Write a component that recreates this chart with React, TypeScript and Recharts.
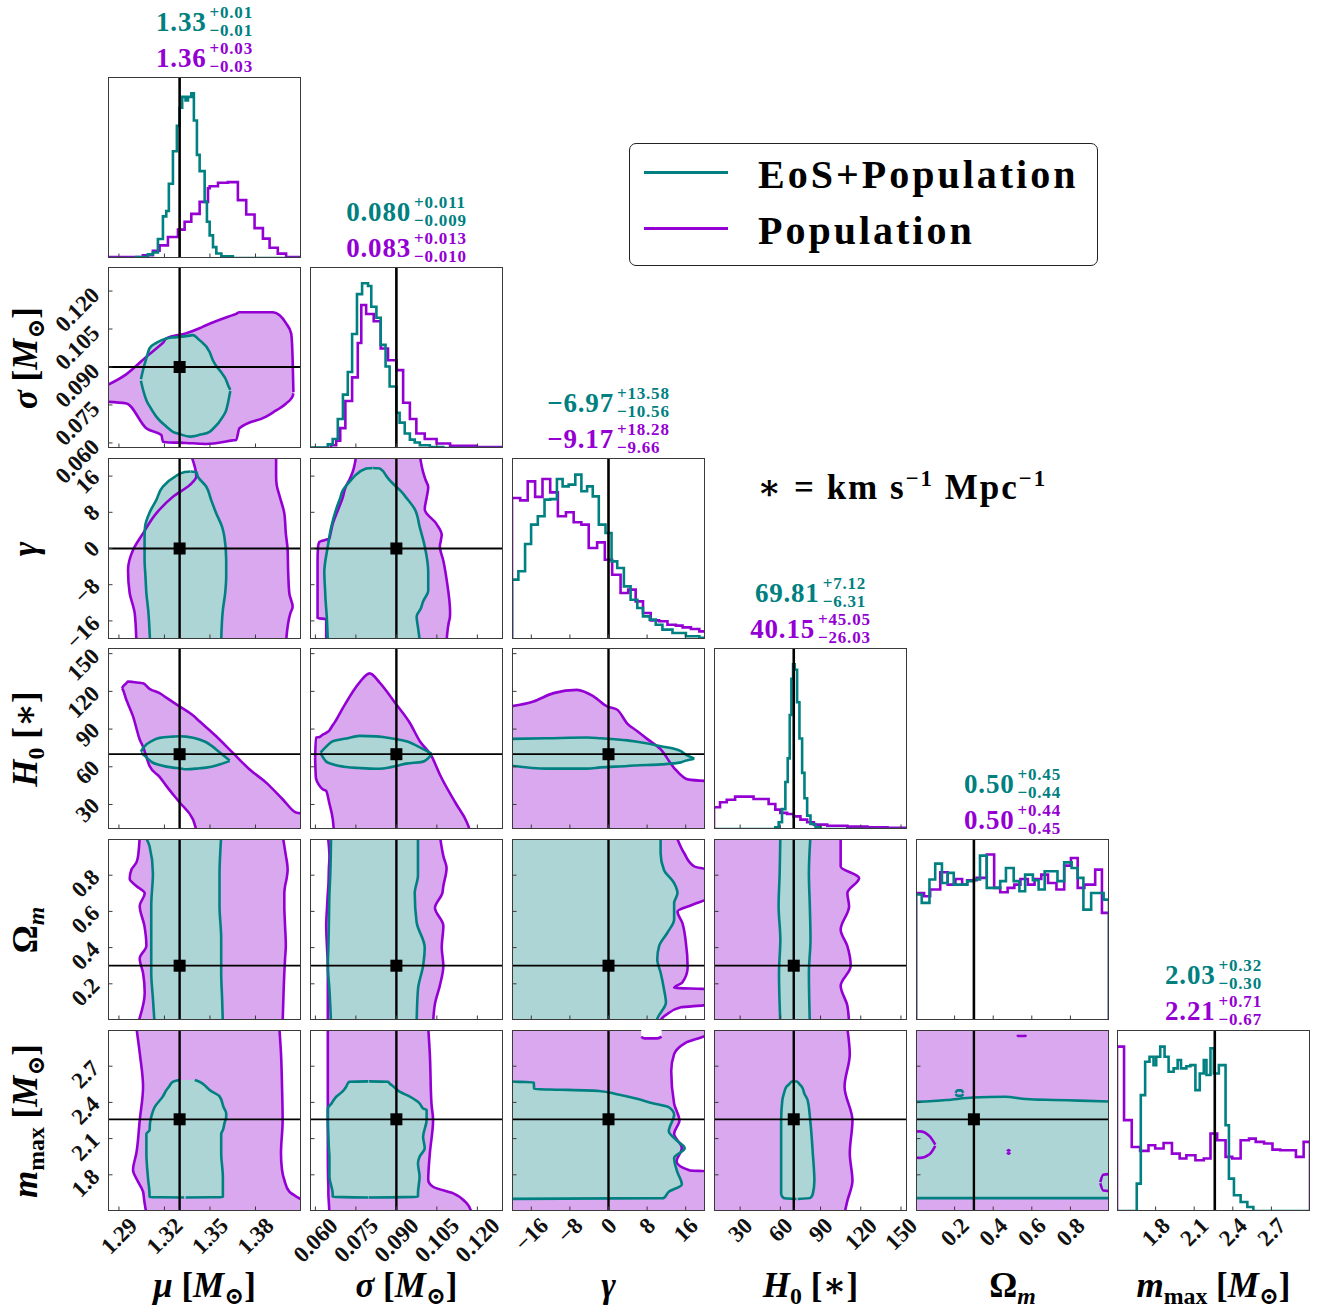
import React from 'react'
import { ComposedChart, LineChart, Line, Area, XAxis, YAxis, ReferenceLine, ReferenceDot } from 'recharts'

const TEAL = '#008080'
const PURPLE = '#9400d3'
const TEAL_FILL = '#aed5d5'
const PURPLE_FILL = '#d9a8ee'
const FRAME = '#3a3a3a'
const SERIF = "'Liberation Serif', 'DejaVu Serif', serif"

// ---- parameter axes ----
const muTicks = [1.29, 1.32, 1.35, 1.38]
const sigTicks = [0.06, 0.075, 0.09, 0.105, 0.12]
const gamTicks = [-16, -8, 0, 8, 16]
const h0Ticks = [30, 60, 90, 120, 150]
const omTicks = [0.2, 0.4, 0.6, 0.8]
const mmaxTicks = [1.8, 2.1, 2.4, 2.7]
const truths = [1.33, 0.09, 0, 70, 0.3, 2.26]

// ---- 1D marginals [x, height %] ----
const muTeal = [[1.2828, 0], [1.3015, 0.5], [1.3091, 2], [1.3124, 3], [1.3157, 10.5], [1.319, 23], [1.3212, 26], [1.3229, 41], [1.3256, 59], [1.3282, 73], [1.33, 83], [1.3317, 89], [1.3339, 87], [1.3355, 89], [1.3377, 91], [1.3394, 76], [1.3414, 57], [1.3432, 48], [1.3465, 31], [1.348, 20], [1.3498, 12.5], [1.352, 6], [1.3542, 2.5], [1.3575, 1], [1.3651, 0], [1.41, 0]]
const muPurple = [[1.2828, 0.5], [1.3058, 1.5], [1.3124, 4], [1.3168, 7], [1.3223, 11.6], [1.3289, 15.7], [1.3333, 20], [1.3377, 24.4], [1.3432, 31], [1.3487, 38.5], [1.3498, 39.6], [1.3553, 41.6], [1.3618, 41.9], [1.3684, 32], [1.3739, 24], [1.3794, 16.5], [1.3849, 10.7], [1.3893, 5.7], [1.3947, 2.4], [1.4002, 0.5], [1.41, 0.5]]
const sigTeal = [[0.058, 0.3], [0.0646, 2], [0.0664, 5], [0.0683, 16], [0.0702, 29.5], [0.072, 42], [0.0736, 63], [0.0754, 85], [0.0773, 91], [0.0795, 89.5], [0.0807, 78], [0.0826, 72], [0.0842, 57], [0.086, 45], [0.0875, 34], [0.09, 19.5], [0.0912, 14], [0.0931, 8], [0.095, 4.6], [0.0968, 3], [0.0987, 1.5], [0.1024, 0.5], [0.1074, 0], [0.1295, 0]]
const sigPurple = [[0.058, 0], [0.0658, 1.5], [0.0677, 4], [0.0692, 11], [0.0711, 26], [0.0736, 39], [0.0757, 58], [0.077, 79], [0.0788, 74], [0.0816, 70], [0.0842, 55], [0.0869, 48.5], [0.09, 43], [0.0925, 25], [0.095, 16], [0.0974, 8], [0.1005, 5], [0.1049, 2.5], [0.1099, 1.2], [0.1198, 0.5], [0.1295, 0.5]]
const gamTeal = [[-20, 0], [-20, 32.8], [-18.68, 37.4], [-17.29, 52.5], [-16.04, 63.2], [-14.65, 67.8], [-13.26, 77], [-12.08, 77.3], [-10.69, 88.4], [-9.51, 84.3], [-8.26, 85.3], [-6.88, 90.8], [-5.62, 81.6], [-4.44, 84.3], [-3.26, 78.8], [-2.01, 63.2], [-0.62, 58.6], [0.63, 42.9], [1.81, 39.2], [3.19, 29.1], [4.58, 21.7], [5.97, 17.1], [7.15, 12.5], [8.54, 10.7], [9.79, 7.9], [11.18, 5.2], [13.26, 3.3], [16.04, 1.5], [18.82, 0.6], [20, 0.6]]
const gamPurple = [[-20, 0], [-20, 77.9], [-18.3, 76.6], [-16.74, 87.1], [-15.21, 78.5], [-13.68, 88.4], [-12.08, 81], [-10.49, 67.8], [-8.82, 70], [-7.22, 64.5], [-5.62, 63.2], [-4.1, 50.3], [-2.36, 53.4], [-0.76, 43.8], [0.76, 35.5], [2.5, 25.4], [4.1, 27.3], [5.63, 20.8], [7.15, 14.4], [8.75, 10.3], [10.49, 9.8], [12.22, 7.9], [13.96, 7.4], [15.35, 6.4], [17.08, 5.5], [18.82, 4.2], [20, 4.2]]
const h0Teal = [[10.5, 0], [56.25, 0.9], [58.75, 3.7], [61.25, 11], [63.75, 26], [65.5, 39], [67, 63], [68.25, 83], [69.5, 91], [70.75, 88], [72.5, 70], [74.25, 50], [76.25, 31], [78, 17], [80, 7.4], [82.5, 2.8], [86.25, 0.9], [90, 0], [154.5, 0]]
const h0Purple = [[10.5, 0], [10.5, 12], [15, 14.8], [20, 16.2], [26.25, 17.9], [40, 16.6], [51.25, 13.8], [56.25, 10.7], [60, 8.9], [65, 8.3], [70, 7], [75, 5.2], [80, 3.7], [85, 2.4], [95, 1.8], [110, 1.3], [125, 0.9], [140, 0.6], [154.5, 0.6]]
const omTeal = [[0, 0], [0, 69.3], [0.0297, 64.7], [0.0698, 77.6], [0.0995, 86.4], [0.1344, 75.7], [0.1641, 81.3], [0.1955, 74.8], [0.2653, 76.7], [0.3002, 77.6], [0.3316, 90.8], [0.3665, 73], [0.4363, 76.7], [0.466, 84], [0.5061, 76.7], [0.5358, 71.1], [0.5654, 80.3], [0.6056, 77.2], [0.6353, 72.1], [0.6667, 82.2], [0.733, 76.7], [0.7679, 87.1], [0.8063, 84], [0.8377, 78.5], [0.8674, 61], [0.9075, 70.2], [0.9721, 66.5], [1.0, 0]]
const omPurple = [[0, 0], [0, 70.2], [0.0419, 68.4], [0.0733, 72.1], [0.1257, 81.6], [0.1641, 74.8], [0.2042, 77.9], [0.2391, 74.8], [0.2653, 77.2], [0.3142, 78.5], [0.3665, 91.4], [0.4049, 73], [0.4363, 70.6], [0.4747, 73], [0.5096, 74.8], [0.541, 77.9], [0.5794, 74.8], [0.6143, 77.9], [0.6492, 80.3], [0.6841, 75.7], [0.7277, 72.1], [0.7679, 85.3], [0.8028, 89.5], [0.8377, 73], [0.8726, 74.8], [0.9284, 83.1], [0.9634, 59.2], [1.0, 0]]
const mmaxTeal = [[1.5, 0], [1.6536, 15.1], [1.6849, 64], [1.7188, 82.5], [1.7526, 85.2], [1.7839, 80.6], [1.8047, 85.2], [1.8359, 90.8], [1.8698, 85.2], [1.901, 76.9], [1.9401, 78.8], [1.9714, 83.4], [1.9974, 78.8], [2.0391, 80], [2.0703, 80.6], [2.1094, 66.8], [2.1432, 76], [2.1745, 83.4], [2.1953, 75.1], [2.2266, 89.9], [2.2526, 76], [2.2917, 80.6], [2.3438, 47.4], [2.3698, 17.9], [2.4089, 8.7], [2.4609, 5], [2.513, 2.2], [2.5599, 0], [3.0, 0]]
const mmaxPurple = [[1.5, 0], [1.5, 90.8], [1.5547, 50.2], [1.6146, 35.4], [1.6797, 33.2], [1.7448, 36.3], [1.7969, 34.5], [1.862, 37.6], [1.9271, 31.7], [1.987, 29], [2.0391, 30.8], [2.1094, 28], [2.1745, 29], [2.2266, 42.8], [2.2786, 39.1], [2.3438, 29.9], [2.3958, 29], [2.4609, 39.1], [2.526, 40], [2.5781, 38.2], [2.6432, 37.3], [2.7083, 33.9], [2.7682, 33.6], [2.8906, 29.9], [2.9505, 38.2], [3.0, 0]]

// ---- 68% regions [coord, lo, hi] ----
const sigMuP = [[1.28, 0.0763, 0.0822], [1.295, 0.0756, 0.0872], [1.308, 0.0658, 0.094], [1.318, 0.0631, 0.099], [1.319, 0.0605, 0.0995], [1.3212, 0.0603, 0.1013], [1.3344, 0.06, 0.1033], [1.3431, 0.0597, 0.1053], [1.3475, 0.0596, 0.1065], [1.365, 0.061, 0.1105], [1.3673, 0.0612, 0.111], [1.3694, 0.0658, 0.1116], [1.387, 0.0704, 0.1116], [1.3914, 0.072, 0.1116], [1.4002, 0.0756, 0.1072], [1.4035, 0.0775, 0.1033], [1.4045, 0.0785, 0.0927], [1.405, 0.0796, 0.08]]
const sigMuT = [[1.3045, 0.0846, 0.0852], [1.3059, 0.081, 0.0888], [1.3081, 0.0769, 0.0935], [1.3102, 0.0745, 0.0974], [1.3146, 0.0704, 0.0995], [1.3212, 0.0665, 0.1013], [1.3256, 0.0644, 0.1017], [1.33, 0.0635, 0.1019], [1.3366, 0.0625, 0.1024], [1.3387, 0.0626, 0.1026], [1.3431, 0.0632, 0.1006], [1.3497, 0.0644, 0.096], [1.3519, 0.0655, 0.0927], [1.3585, 0.0704, 0.087], [1.3607, 0.073, 0.0848], [1.3618, 0.0756, 0.083], [1.3634, 0.0805, 0.081]]
const gamMuP = [[-20.5, 1.3015, 1.4002], [-14.3, 1.3004, 1.403], [-12.9, 1.2995, 1.4045], [-9.9, 1.2971, 1.4023], [-4.75, 1.296, 1.4015], [-0.33, 1.2993, 1.4012], [3.35, 1.3059, 1.4], [7.77, 1.3146, 1.399], [11.45, 1.3256, 1.396], [14.0, 1.3366, 1.394], [15.9, 1.341, 1.3936], [20.5, 1.3377, 1.3936]]
const gamMuT = [[-20.5, 1.3105, 1.3574], [-13.6, 1.3093, 1.3585], [-9.9, 1.3081, 1.36], [-6.2, 1.3075, 1.3607], [-2.5, 1.3069, 1.3607], [2.6, 1.3069, 1.3595], [4.8, 1.3072, 1.358], [7.8, 1.31, 1.3541], [10.7, 1.3146, 1.3508], [13.7, 1.319, 1.3475], [15.9, 1.327, 1.342], [16.9, 1.3333, 1.341], [17.0, 1.337, 1.3372]]
const h0MuP = [[1.292, 122.5, 122.6], [1.2927, 121.2, 123.9], [1.2949, 113.3, 126.5], [1.296, 110, 127.8], [1.2993, 100.1, 127.5], [1.3037, 81.7, 126.8], [1.3059, 76, 126.5], [1.3102, 60.6, 122], [1.3168, 52, 118.6], [1.3212, 44.8, 115], [1.33, 31.6, 108], [1.3387, 18.4, 101], [1.3431, 5, 96.2], [1.3541, 5, 84.3], [1.365, 5, 71.2], [1.376, 5, 58], [1.387, 5, 47.4], [1.3979, 5, 34.2], [1.4067, 5, 23.7], [1.415, 5, 22.4]]
const h0MuT = [[1.3045, 71, 72], [1.3059, 69.8, 75], [1.3124, 63.2, 81], [1.3168, 61.5, 83], [1.3256, 59.3, 84], [1.33, 58.8, 84.3], [1.3344, 58, 84], [1.3431, 58.8, 81.7], [1.3475, 59.3, 79.5], [1.3541, 61, 73.8], [1.3563, 61.9, 71.5], [1.363, 64.5, 65]]
const omMuP = [[-0.02, 1.3025, 1.3979], [0.15, 1.307, 1.3985], [0.26, 1.3059, 1.399], [0.34, 1.3037, 1.3995], [0.41, 1.3081, 1.4], [0.52, 1.3068, 1.3995], [0.63, 1.3037, 1.399], [0.7, 1.307, 1.399], [0.74, 1.3015, 1.3995], [0.78, 1.2971, 1.4005], [0.83, 1.2982, 1.4012], [0.87, 1.3015, 1.4008], [0.9, 1.3025, 1.4002], [1.02, 1.3037, 1.3979]]
const omMuT = [[-0.02, 1.3135, 1.3585], [0.12, 1.3124, 1.358], [0.26, 1.3113, 1.3574], [0.45, 1.3113, 1.3574], [0.63, 1.3113, 1.3563], [0.81, 1.3124, 1.3563], [0.96, 1.3102, 1.357], [1.02, 1.307, 1.3574]]
const mmaxMuP = [[1.48, 1.3081, 1.415], [1.56, 1.307, 1.415], [1.605, 1.3065, 1.4089], [1.66, 1.3059, 1.4023], [1.757, 1.302, 1.399], [1.84, 1.2993, 1.3975], [1.98, 1.3015, 1.3968], [2.25, 1.3037, 1.3979], [2.53, 1.3059, 1.3975], [2.81, 1.3037, 1.3968], [3.02, 1.3015, 1.3957]]
const mmaxMuT = [[1.612, 1.333, 1.334], [1.615, 1.3102, 1.3585], [1.63, 1.3102, 1.3585], [1.78, 1.3091, 1.3585], [1.98, 1.3081, 1.3574], [2.14, 1.3081, 1.3574], [2.17, 1.3102, 1.3585], [2.23, 1.3105, 1.3596], [2.28, 1.3113, 1.3607], [2.31, 1.312, 1.3607], [2.36, 1.3135, 1.359], [2.45, 1.319, 1.3563], [2.5, 1.3212, 1.35], [2.53, 1.323, 1.3475], [2.571, 1.3256, 1.3431], [2.585, 1.33, 1.34]]
const gamSigP = [[-20.5, 0.064, 0.1086], [-15.6, 0.064, 0.1097], [-15.4, 0.0608, 0.1098], [-14.1, 0.0608, 0.1099], [-6.8, 0.0608, 0.1086], [-2.7, 0.0608, 0.1074], [0.5, 0.061, 0.1061], [1.5, 0.0615, 0.1064], [2.2, 0.0652, 0.1066], [3.0, 0.0655, 0.1068], [5.4, 0.0664, 0.1049], [8.7, 0.0685, 0.1005], [11.2, 0.0701, 0.1012], [13.6, 0.0712, 0.1018], [15.2, 0.0726, 0.1008], [16.9, 0.0738, 0.0999], [20.5, 0.0751, 0.0987]]
const gamSigT = [[-20.5, 0.0646, 0.0987], [-17.4, 0.0644, 0.098], [-15.0, 0.0642, 0.0975], [-13.3, 0.064, 0.099], [-11.7, 0.0638, 0.0999], [-9.3, 0.0636, 0.1018], [-5.2, 0.0633, 0.1018], [0.5, 0.0646, 0.1005], [4.6, 0.0658, 0.0987], [8.7, 0.0677, 0.0968], [11.2, 0.0692, 0.0937], [12.8, 0.0701, 0.0915], [13.6, 0.071, 0.09], [15.6, 0.0739, 0.0868], [16.0, 0.0745, 0.0863], [17.7, 0.0788, 0.0838], [17.8, 0.0812, 0.0814]]
const h0SigP = [[0.0599, 67, 67.1], [0.0602, 51, 83.2], [0.0615, 45, 83.7], [0.0627, 42.2, 85.5], [0.064, 40.8, 87], [0.0652, 30.6, 89], [0.0664, 18.9, 93], [0.0672, 5, 95.5], [0.0701, 5, 106.5], [0.0763, 5, 127], [0.0801, 5, 134.3], [0.0838, 5, 127], [0.09, 5, 109.5], [0.095, 5, 94.8], [0.0987, 5, 80.3], [0.103, 5, 68.6], [0.1061, 5, 53.9], [0.1121, 5, 30.6], [0.1161, 5, 15.96], [0.1175, 5, 8]]
const h0SigT = [[0.0619, 70.8, 71.2], [0.064, 64.1, 76], [0.0664, 62, 80.3], [0.0714, 59.8, 82.5], [0.0763, 59, 84.6], [0.0826, 58.4, 84.2], [0.085, 58.6, 83.7], [0.0912, 61.3, 81.5], [0.0937, 62.5, 80.3], [0.0999, 64.1, 74], [0.103, 69.5, 70.5]]
const omSigP = [[-0.02, 0.0646, 0.1036], [0.09, 0.0646, 0.1043], [0.19, 0.0646, 0.1061], [0.3, 0.0646, 0.1074], [0.4, 0.0643, 0.1068], [0.52, 0.064, 0.1074], [0.62, 0.0643, 0.1043], [0.7, 0.0646, 0.107], [0.74, 0.0648, 0.1074], [0.84, 0.065, 0.1086], [0.9, 0.0652, 0.1075], [1.02, 0.0646, 0.1061]]
const omSigT = [[-0.02, 0.0658, 0.0975], [0.17, 0.0652, 0.098], [0.3, 0.0646, 0.0999], [0.4, 0.0648, 0.1005], [0.54, 0.065, 0.0975], [0.7, 0.0652, 0.0968], [0.8, 0.0655, 0.098], [1.02, 0.0658, 0.098]]
const mmaxSigP = [[1.48, 0.0652, 0.118], [1.563, 0.065, 0.1161], [1.646, 0.0648, 0.1111], [1.701, 0.0648, 0.1036], [1.757, 0.0647, 0.1018], [1.978, 0.0646, 0.1024], [2.254, 0.0646, 0.1036], [2.39, 0.0646, 0.103], [2.8, 0.0646, 0.1024], [3.02, 0.0646, 0.1018]]
const mmaxSigT = [[1.612, 0.0795, 0.0797], [1.618, 0.0664, 0.098], [1.646, 0.0664, 0.098], [1.784, 0.0652, 0.0986], [1.895, 0.0652, 0.098], [1.95, 0.0652, 0.0986], [2.02, 0.065, 0.1005], [2.116, 0.0648, 0.0999], [2.254, 0.0646, 0.1012], [2.337, 0.0646, 0.1012], [2.35, 0.0646, 0.0999], [2.392, 0.066, 0.0986], [2.447, 0.0677, 0.095], [2.489, 0.07, 0.0912], [2.53, 0.0714, 0.089], [2.557, 0.072, 0.0875], [2.571, 0.0726, 0.0869], [2.574, 0.0796, 0.0799]]
const h0GamP = [[-20.5, 5, 108], [-15.56, 5, 112], [-11.39, 5, 118.6], [-6.53, 5, 121.2], [-3.06, 5, 115.9], [-0.28, 5, 108], [1.81, 5, 105.4], [3.89, 5, 94.4], [5.97, 5, 88.3], [8.06, 5, 82], [10.83, 5, 73.8], [13.61, 5, 59], [16.39, 5, 50], [20.5, 5, 48.7]]
const h0GamT = [[-20.5, 61.1, 82.2], [-12.78, 58.5, 82.7], [-4.44, 58.5, 83.3], [-1.67, 59.5, 82.7], [3.89, 60.6, 81], [5.28, 61, 80.3], [10.83, 61.9, 76.4], [15.0, 63.5, 72.5], [15.69, 64.5, 70.5], [17.78, 66.4, 66.6]]
const omGamP = [[-0.02, -20.5, 10.3], [0.03, -20.5, 12], [0.07, -20.5, 15], [0.085, -20.5, 20.5], [0.17, -20.5, 20.5], [0.178, -20.5, 13.6], [0.207, -20.5, 15.3], [0.29, -20.5, 16.4], [0.436, -20.5, 16], [0.537, -20.5, 15.3], [0.6, -20.5, 14.3], [0.637, -20.5, 17.4], [0.674, -20.5, 20.5], [0.829, -20.5, 20.5], [0.848, -20.5, 17.8], [0.921, -20.5, 15.7], [1.02, -20.5, 14]]
const omGamT = [[-0.02, -20.5, 10], [0.005, -20.5, 10.1], [0.097, -20.5, 11.9], [0.17, -20.5, 11.5], [0.262, -20.5, 10.8], [0.335, -20.5, 10.1], [0.409, -20.5, 10.5], [0.482, -20.5, 12.2], [0.555, -20.5, 13.6], [0.646, -20.5, 13.6], [0.701, -20.5, 14.3], [0.756, -20.5, 13.6], [0.829, -20.5, 11.5], [0.921, -20.5, 10.8], [1.02, -20.5, 10.8]]
const mmaxGamP = [[1.48, -20.5, 20.5], [1.83, -20.5, 20.5], [1.835, -20.5, 16.9], [1.91, -20.5, 14.1], [2.02, -20.5, 15.2], [2.14, -20.5, 13.6], [2.25, -20.5, 14.7], [2.39, -20.5, 13.6], [2.66, -20.5, 13], [2.8, -20.5, 13.6], [2.89, -20.5, 15.8], [2.97, -20.5, 20.5], [3.02, -20.5, 20.5]]
const mmaxGamT = [[1.6, -20.5, -20.5], [1.607, -20.5, 11.4], [1.66, -20.5, 12.5], [1.72, -20.5, 15.2], [1.83, -20.5, 14.2], [1.94, -20.5, 13.6], [2.02, -20.5, 15.8], [2.09, -20.5, 14], [2.16, -20.5, 12.5], [2.3, -20.5, 13.6], [2.36, -20.5, 12.5], [2.4, -20.5, 8.5], [2.43, -20.5, 5.9], [2.47, -20.5, 1.5], [2.495, -20.5, -2], [2.505, -20.5, -10], [2.51, -20.5, -15.4], [2.567, -20.5, -15.5], [2.57, -20.5, -18.5], [2.575, -20.5, -20.5]]
const mmaxGamIsland = [[10.3, 2.96, 3.1], [10.8, 2.95, 3.1], [12.8, 2.95, 3.1], [13.4, 2.96, 3.1]]
const omH0P = [[-0.02, 5, 111.3], [0.079, 5, 110], [0.189, 5, 105], [0.298, 5, 112.5], [0.408, 5, 110], [0.5, 5, 105], [0.628, 5, 111.3], [0.701, 5, 110], [0.784, 5, 118.8], [0.848, 5, 105], [1.02, 5, 105]]
const omH0T = [[-0.02, 60, 82], [0.26, 59, 81.3], [0.445, 60, 82.5], [0.628, 58.7, 82], [0.811, 59.5, 81.3], [1.02, 60, 82.5]]
const mmaxH0P = [[1.48, 5, 107.9], [1.58, 5, 109.9], [1.75, 5, 113.8], [1.98, 5, 111.8], [2.25, 5, 113.8], [2.53, 5, 107.9], [2.8, 5, 111.8], [3.02, 5, 109.9]]
const mmaxH0T = [[1.6, 72, 73], [1.607, 62.6, 82.3], [1.64, 60.6, 84.2], [1.75, 60.6, 85.4], [1.98, 60.6, 84.2], [2.25, 60.6, 82.3], [2.42, 61.5, 80.3], [2.47, 62.6, 78], [2.53, 64.5, 76], [2.55, 66.5, 74.4], [2.572, 68.5, 72.4], [2.575, 70, 71]]
const mmaxOmP = [[-0.05, 1.4, 3.1], [1.05, 1.4, 3.1]]
const mmaxOmT = [[-0.05, 1.607, 2.4], [0.158, 1.607, 2.42], [0.295, 1.607, 2.44], [0.46, 1.607, 2.447], [0.57, 1.607, 2.428], [0.708, 1.607, 2.42], [0.845, 1.607, 2.415], [1.05, 1.607, 2.405]]
const mmaxOmIslandL = [[-0.05, 1.95, 2.15], [0.02, 1.94, 2.16], [0.07, 1.97, 2.12], [0.1, 2.04, 2.05]]
const mmaxOmIslandR = [[0.955, 1.73, 1.74], [0.97, 1.67, 1.8], [1.05, 1.66, 1.81]]
const mmaxOmIslandDot = [[0.472, 1.985, 1.995], [0.48, 1.975, 2.005], [0.488, 1.985, 1.995]]
const mmaxOmIslandTop = [[0.525, 2.96, 3.1], [0.53, 2.95, 3.1], [0.565, 2.95, 3.1], [0.57, 2.96, 3.1]]
const mmaxOmTealLoop = [[0.205, 2.47, 2.48], [0.215, 2.455, 2.5], [0.235, 2.455, 2.5], [0.245, 2.47, 2.48]]

// ---- quoted medians ----
const tealMed = ['1.33', '0.080', '−6.97', '69.81', '0.50', '2.03']
const tealPlus = ['0.01', '0.011', '13.58', '7.12', '0.45', '0.32']
const tealMinus = ['0.01', '0.009', '10.56', '6.31', '0.44', '0.30']
const purpleMed = ['1.36', '0.083', '−9.17', '40.15', '0.50', '2.21']
const purplePlus = ['0.03', '0.013', '18.28', '45.05', '0.44', '0.71']
const purpleMinus = ['0.03', '0.010', '9.66', '26.03', '0.45', '0.67']

const neg = (s: string) => s.replace('-', '−')
const PARAMS = [
  { domain: [1.2828, 1.41], ticks: muTicks, fmt: (v: number) => v.toFixed(2) },
  { domain: [0.058, 0.1295], ticks: sigTicks, fmt: (v: number) => v.toFixed(3) },
  { domain: [-20, 20], ticks: gamTicks, fmt: (v: number) => neg(String(v)) },
  { domain: [10.5, 154.5], ticks: h0Ticks, fmt: (v: number) => String(v) },
  { domain: [0, 1], ticks: omTicks, fmt: (v: number) => v.toFixed(1) },
  { domain: [1.5, 3.0], ticks: mmaxTicks, fmt: (v: number) => v.toFixed(1) },
].map((p, i) => ({ ...p, truth: truths[i] }))

const HISTS = [
  [muTeal, muPurple], [sigTeal, sigPurple], [gamTeal, gamPurple],
  [h0Teal, h0Purple], [omTeal, omPurple], [mmaxTeal, mmaxPurple],
]

type Pair = { row: number; col: number; layout: 'horizontal' | 'vertical'; p: number[][]; t: number[][]; isl?: number[][][]; tisl?: number[][][] }
const PAIRS: Pair[] = [
  { row: 1, col: 0, layout: 'horizontal', p: sigMuP, t: sigMuT },
  { row: 2, col: 0, layout: 'vertical', p: gamMuP, t: gamMuT },
  { row: 3, col: 0, layout: 'horizontal', p: h0MuP, t: h0MuT },
  { row: 4, col: 0, layout: 'vertical', p: omMuP, t: omMuT },
  { row: 5, col: 0, layout: 'vertical', p: mmaxMuP, t: mmaxMuT },
  { row: 2, col: 1, layout: 'vertical', p: gamSigP, t: gamSigT },
  { row: 3, col: 1, layout: 'horizontal', p: h0SigP, t: h0SigT },
  { row: 4, col: 1, layout: 'vertical', p: omSigP, t: omSigT },
  { row: 5, col: 1, layout: 'vertical', p: mmaxSigP, t: mmaxSigT },
  { row: 3, col: 2, layout: 'horizontal', p: h0GamP, t: h0GamT },
  { row: 4, col: 2, layout: 'vertical', p: omGamP, t: omGamT },
  { row: 5, col: 2, layout: 'vertical', p: mmaxGamP, t: mmaxGamT },
  { row: 4, col: 3, layout: 'vertical', p: omH0P, t: omH0T },
  { row: 5, col: 3, layout: 'vertical', p: mmaxH0P, t: mmaxH0T },
  { row: 5, col: 4, layout: 'horizontal', p: mmaxOmP, t: mmaxOmT, isl: [mmaxOmIslandL, mmaxOmIslandR, mmaxOmIslandDot, mmaxOmIslandTop], tisl: [mmaxOmTealLoop] },
]
// white pocket near the top of the (gamma, m_max) panel, drawn in its own horizontal chart
const POCKETS = [{ row: 5, col: 2, d: mmaxGamIsland }]

// layout
const LEFT = [108, 310, 512, 714, 916, 1117]
const TOP = [77, 267, 458, 648, 839, 1030]
const PW = 193
const PH = 181
const AXL = 70 // room for y tick labels
const AXB = 70 // room for x tick labels
const M0 = { top: 0, right: 0, bottom: 0, left: 0 }
const TFS = 23
const LW = 2.6

const rows = (a: number[][]) => a.map(([c, lo, hi]) => ({ c, r: [lo, hi] }))
const steps = (a: number[][]) => a.map(([x, h]) => ({ x, h }))
const textW = (s: string) => [...s].reduce((a, ch) => a + (ch === '.' ? 0.25 : ch === '−' ? 0.57 : 0.5), 0) * TFS

const tickText = { fontFamily: SERIF, fontWeight: 700, fontSize: TFS, fill: '#111' }

// inward tick mark + optional rotated label
const xTick = (fmt: (v: number) => string, label: boolean) => (props: any) => {
  const cx = props.payload.coordinate
  const s = fmt(props.payload.value)
  const w = textW(s)
  const d = (w + 0.68 * TFS) / (2 * Math.SQRT2)
  return (
    <g>
      <line x1={cx} x2={cx} y1={PH} y2={PH - 4.5} stroke={FRAME} strokeWidth={1} />
      {label && (
        <text transform={`translate(${cx},${PH + 5 + d}) rotate(-45)`} textAnchor="middle" dy="0.34em" {...tickText}>{s}</text>
      )}
    </g>
  )
}
const yTick = (fmt: (v: number) => string, label: boolean) => (props: any) => {
  const cy = props.payload.coordinate
  const s = fmt(props.payload.value)
  const w = textW(s)
  const d = (w + 0.68 * TFS) / (2 * Math.SQRT2)
  return (
    <g>
      <line x1={AXL} x2={AXL + 4.5} y1={cy} y2={cy} stroke={FRAME} strokeWidth={1} />
      {label && (
        <text transform={`translate(${AXL - 7 - d},${cy + 0.45 * w - 5}) rotate(-45)`} textAnchor="middle" dy="0.34em" {...tickText}>{s}</text>
      )}
    </g>
  )
}

const square = (props: any) => <rect x={props.cx - 6} y={props.cy - 6} width={12} height={12} fill="#000" />
const Frame = () => (
  <div style={{ position: 'absolute', left: AXL, top: 0, width: PW, height: PH, border: `1.3px solid ${FRAME}`, boxSizing: 'border-box', pointerEvents: 'none' }} />
)
const boxStyle = (col: number, row: number) => ({ position: 'absolute' as const, left: LEFT[col] - AXL, top: TOP[row], width: PW + AXL, height: PH + AXB })
const noAnim = { dot: false, activeDot: false, isAnimationActive: false } as const

function Hist({ i }: { i: number }) {
  const p = PARAMS[i]
  const [teal, purple] = HISTS[i]
  return (
    <div style={boxStyle(i, i)}>
      <LineChart width={PW + AXL} height={PH + AXB} margin={M0}>
        <XAxis type="number" dataKey="x" domain={p.domain} allowDataOverflow ticks={p.ticks} interval={0} height={AXB}
          axisLine={false} tickLine={false} tick={xTick(p.fmt, i === 5)} />
        <YAxis type="number" domain={[0, 100]} allowDataOverflow width={AXL} axisLine={false} tickLine={false} tick={false} />
        <Line data={steps(purple)} dataKey="h" type="stepAfter" stroke={PURPLE} strokeWidth={LW} {...noAnim} />
        <Line data={steps(teal)} dataKey="h" type="stepAfter" stroke={TEAL} strokeWidth={LW} {...noAnim} />
        <ReferenceLine x={p.truth} stroke="#000" strokeWidth={2.6} />
      </LineChart>
      <Frame />
    </div>
  )
}

function Pocket({ row, col, d }: { row: number; col: number; d: number[][] }) {
  const px = PARAMS[col]
  const py = PARAMS[row]
  return (
    <div style={{ ...boxStyle(col, row), pointerEvents: 'none' }}>
      <ComposedChart width={PW + AXL} height={PH + AXB} margin={M0}>
        <XAxis type="number" dataKey="c" domain={px.domain} allowDataOverflow height={AXB} hide />
        <YAxis type="number" domain={py.domain} allowDataOverflow width={AXL} hide />
        <Area data={rows(d)} dataKey="r" type="monotone" stroke={PURPLE} strokeWidth={LW} fill="#fff" fillOpacity={1} {...noAnim} />
      </ComposedChart>
    </div>
  )
}

function Pair2D({ pr }: { pr: Pair }) {
  const px = PARAMS[pr.col]
  const py = PARAMS[pr.row]
  const vert = pr.layout === 'vertical'
  return (
    <div style={boxStyle(pr.col, pr.row)}>
      <ComposedChart width={PW + AXL} height={PH + AXB} margin={M0} layout={pr.layout}>
        <XAxis type="number" dataKey={vert ? undefined : 'c'} domain={px.domain} allowDataOverflow ticks={px.ticks} interval={0} height={AXB}
          axisLine={false} tickLine={false} tick={xTick(px.fmt, pr.row === 5)} />
        <YAxis type="number" dataKey={vert ? 'c' : undefined} reversed={vert} domain={py.domain} allowDataOverflow ticks={py.ticks} interval={0} width={AXL}
          axisLine={false} tickLine={false} tick={yTick(py.fmt, pr.col === 0)} />
        <Area data={rows(pr.p)} dataKey="r" type="monotone" stroke="none" fill={PURPLE_FILL} fillOpacity={1} {...noAnim} />
        <Area data={rows(pr.t)} dataKey="r" type="monotone" stroke="none" fill={TEAL_FILL} fillOpacity={1} {...noAnim} />
        <Area data={rows(pr.p)} dataKey="r" type="monotone" stroke={PURPLE} strokeWidth={LW} fill="none" {...noAnim} />
        {(pr.isl || []).map((isl, k) => (
          <Area key={`p${k}`} data={rows(isl)} dataKey="r" type="monotone" stroke={PURPLE} strokeWidth={LW} fill="none" {...noAnim} />
        ))}
        <Area data={rows(pr.t)} dataKey="r" type="monotone" stroke={TEAL} strokeWidth={LW} fill="none" {...noAnim} />
        {(pr.tisl || []).map((isl, k) => (
          <Area key={`t${k}`} data={rows(isl)} dataKey="r" type="monotone" stroke={TEAL} strokeWidth={LW} fill="none" {...noAnim} />
        ))}
        <ReferenceLine x={px.truth} stroke="#000" strokeWidth={2.4} />
        <ReferenceLine y={py.truth} stroke="#000" strokeWidth={1.8} />
        <ReferenceDot x={px.truth} y={py.truth} r={6} shape={square} />
      </ComposedChart>
      <Frame />
    </div>
  )
}

const sub = { fontSize: '0.68em', verticalAlign: '-0.3em', lineHeight: 0 }
const LABELS = [
  <><i>μ</i> [<i>M</i><span style={sub}>⊙</span>]</>,
  <><i>σ</i> [<i>M</i><span style={sub}>⊙</span>]</>,
  <><i>γ</i></>,
  <><i>H</i><span style={sub}>0</span> [∗]</>,
  <>Ω<span style={sub}><i>m</i></span></>,
  <><i>m</i><span style={sub}>max</span> [<i>M</i><span style={sub}>⊙</span>]</>,
]

function Quote({ med, plus, minus, color, x, y }: { med: string; plus: string; minus: string; color: string; x: number; y: number }) {
  return (
    <div style={{ position: 'absolute', left: x, top: y, transform: 'translate(-50%,-50%)', display: 'flex', alignItems: 'center', color, whiteSpace: 'nowrap', letterSpacing: 0.8 }}>
      <span style={{ fontSize: 27, lineHeight: '27px' }}>{med}</span>
      <span style={{ display: 'flex', flexDirection: 'column', fontSize: 17, lineHeight: '18px', marginLeft: 3 }}>
        <span>+{plus}</span>
        <span>−{minus}</span>
      </span>
    </div>
  )
}

export default function App() {
  return (
    <div style={{ position: 'absolute', left: 0, top: 0, width: 1317, height: 1309, background: '#fff', fontFamily: SERIF, fontWeight: 700, color: '#000' }}>
      <style>{`.recharts-surface, .recharts-wrapper { overflow: visible !important; }`}</style>
      {PARAMS.map((_, i) => <Hist key={`h${i}`} i={i} />)}
      {PAIRS.map((pr) => <Pair2D key={`${pr.row}${pr.col}`} pr={pr} />)}
      {POCKETS.map((p) => <Pocket key={`k${p.row}${p.col}`} {...p} />)}
      {PARAMS.map((_, i) => (
        <React.Fragment key={`q${i}`}>
          <Quote med={tealMed[i]} plus={tealPlus[i]} minus={tealMinus[i]} color={TEAL} x={LEFT[i] + PW / 2} y={TOP[i] - 55} />
          <Quote med={purpleMed[i]} plus={purplePlus[i]} minus={purpleMinus[i]} color={PURPLE} x={LEFT[i] + PW / 2} y={TOP[i] - 19} />
        </React.Fragment>
      ))}
      {LABELS.map((l, i) => (
        <div key={`xl${i}`} style={{ position: 'absolute', left: LEFT[i] + PW / 2, top: 1286, transform: 'translate(-50%,-50%)', fontSize: 35, lineHeight: '36px', whiteSpace: 'nowrap' }}>{l}</div>
      ))}
      {LABELS.slice(1).map((l, i) => (
        <div key={`yl${i}`} style={{ position: 'absolute', left: 26, top: TOP[i + 1] + PH / 2, transform: 'translate(-50%,-50%) rotate(-90deg)', fontSize: 35, lineHeight: '36px', whiteSpace: 'nowrap' }}>{l}</div>
      ))}
      <div style={{ position: 'absolute', left: 629, top: 143, width: 469, height: 123, border: '1.5px solid #222', borderRadius: 7, boxSizing: 'border-box' }}>
        <div style={{ position: 'absolute', left: 14, top: 27, width: 84, height: 3, background: TEAL }} />
        <div style={{ position: 'absolute', left: 14, top: 83, width: 84, height: 3, background: PURPLE }} />
        <div style={{ position: 'absolute', left: 128, top: 30, transform: 'translateY(-50%)', fontSize: 40, letterSpacing: 3, whiteSpace: 'nowrap' }}>EoS+Population</div>
        <div style={{ position: 'absolute', left: 128, top: 86, transform: 'translateY(-50%)', fontSize: 40, letterSpacing: 3, whiteSpace: 'nowrap' }}>Population</div>
      </div>
      <div style={{ position: 'absolute', left: 757, top: 487, transform: 'translateY(-50%)', fontSize: 35, letterSpacing: 2, whiteSpace: 'nowrap' }}>
        ∗ = km s<sup style={{ fontSize: '0.65em' }}>−1</sup> Mpc<sup style={{ fontSize: '0.65em' }}>−1</sup>
      </div>
    </div>
  )
}
